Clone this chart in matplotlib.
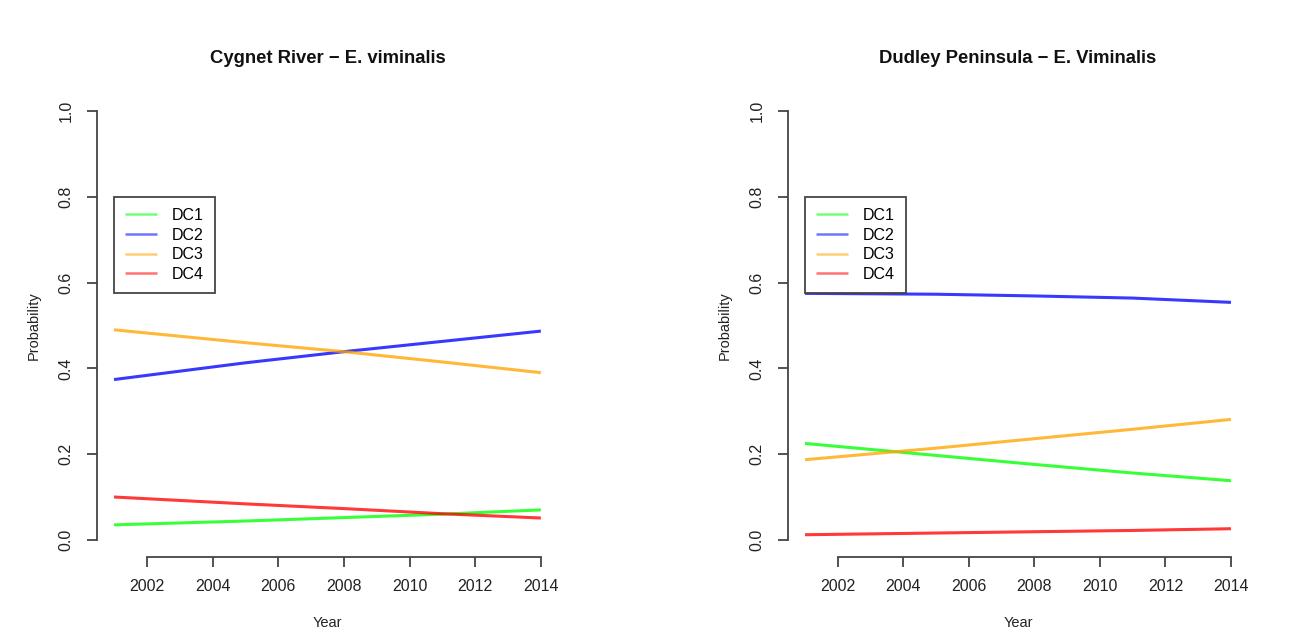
import matplotlib
matplotlib.use('Agg')
import matplotlib.pyplot as plt
import numpy as np

plt.rcParams['font.family'] = ['Liberation Sans', 'DejaVu Sans']

# ── Data ─────────────────────────────────────────────────────────────────────
years = [2001, 2005, 2008, 2011, 2014]
classes = ['DC1', 'DC2', 'DC3', 'DC4']
colors = ['#00ff00', '#0000ff', '#ffa500', '#ff0000']

cygnet_title = 'Cygnet River \u2212 E. viminalis'
cygnet = {
    'DC1': [0.035, 0.044, 0.052, 0.060, 0.070],
    'DC2': [0.374, 0.413, 0.439, 0.463, 0.487],
    'DC3': [0.490, 0.460, 0.439, 0.415, 0.390],
    'DC4': [0.100, 0.084, 0.073, 0.061, 0.051],
}

dudley_title = 'Dudley Peninsula \u2212 E. Viminalis'
dudley = {
    'DC1': [0.225, 0.197, 0.176, 0.156, 0.138],
    'DC2': [0.575, 0.573, 0.569, 0.564, 0.554],
    'DC3': [0.187, 0.214, 0.236, 0.258, 0.281],
    'DC4': [0.012, 0.016, 0.019, 0.022, 0.026],
}

xticks = [2002, 2004, 2006, 2008, 2010, 2012, 2014]
yticks = [0.0, 0.2, 0.4, 0.6, 0.8, 1.0]

AXC = '#444444'
FS = 11.5

fig = plt.figure(figsize=(12.93, 6.43), dpi=100)
panels = [
    (fig.add_axes([0.0750, 0.1337, 0.3565, 0.7201]), cygnet_title, cygnet),
    (fig.add_axes([0.6094, 0.1337, 0.3558, 0.7201]), dudley_title, dudley),
]

for ax, title, data in panels:
    for cls, col in zip(classes, colors):
        ax.plot(years, data[cls], color=col, lw=2.2, label=cls, alpha=0.78,
                solid_capstyle='butt')

    # R-style axes: 4% padding, detached spines limited to tick range
    span = years[-1] - years[0]
    ax.set_xlim(years[0] - 0.04 * span, years[-1] + 0.04 * span)
    ax.set_ylim(-0.04, 1.04)
    ax.set_xticks(xticks)
    ax.set_yticks(yticks)
    ax.set_yticklabels([f'{v:.1f}' for v in yticks], rotation=90, va='center')
    ax.spines['top'].set_visible(False)
    ax.spines['right'].set_visible(False)
    ax.spines['left'].set_bounds(0.0, 1.0)
    ax.spines['bottom'].set_bounds(xticks[0], xticks[-1])
    for s in ('left', 'bottom'):
        ax.spines[s].set_color(AXC)
        ax.spines[s].set_linewidth(1.3)
    ax.tick_params(axis='both', direction='out', length=7, width=1.3,
                   color=AXC, labelsize=FS, labelcolor='#222222')
    ax.tick_params(axis='x', pad=9)
    ax.tick_params(axis='y', pad=10)

    ax.set_title(title, fontsize=13.3, fontweight='bold', pad=22, color='#111111')
    ax.set_xlabel('Year', fontsize=10.5, labelpad=16, color='#222222')
    ax.set_ylabel('Probability', fontsize=10.5, labelpad=13, color='#222222')

    leg = ax.legend(loc='upper left', bbox_to_anchor=(years[0], 0.8),
                    bbox_transform=ax.transData, borderaxespad=0,
                    fancybox=False, framealpha=1, edgecolor=AXC,
                    fontsize=FS, handlelength=2.0, handletextpad=0.9,
                    labelspacing=0.29, borderpad=0.7)
    leg.get_frame().set_linewidth(1.3)
    for line in leg.get_lines():
        line.set_linewidth(1.8)
        line.set_alpha(0.55)

plt.savefig('out.png', dpi=100, facecolor='white')
